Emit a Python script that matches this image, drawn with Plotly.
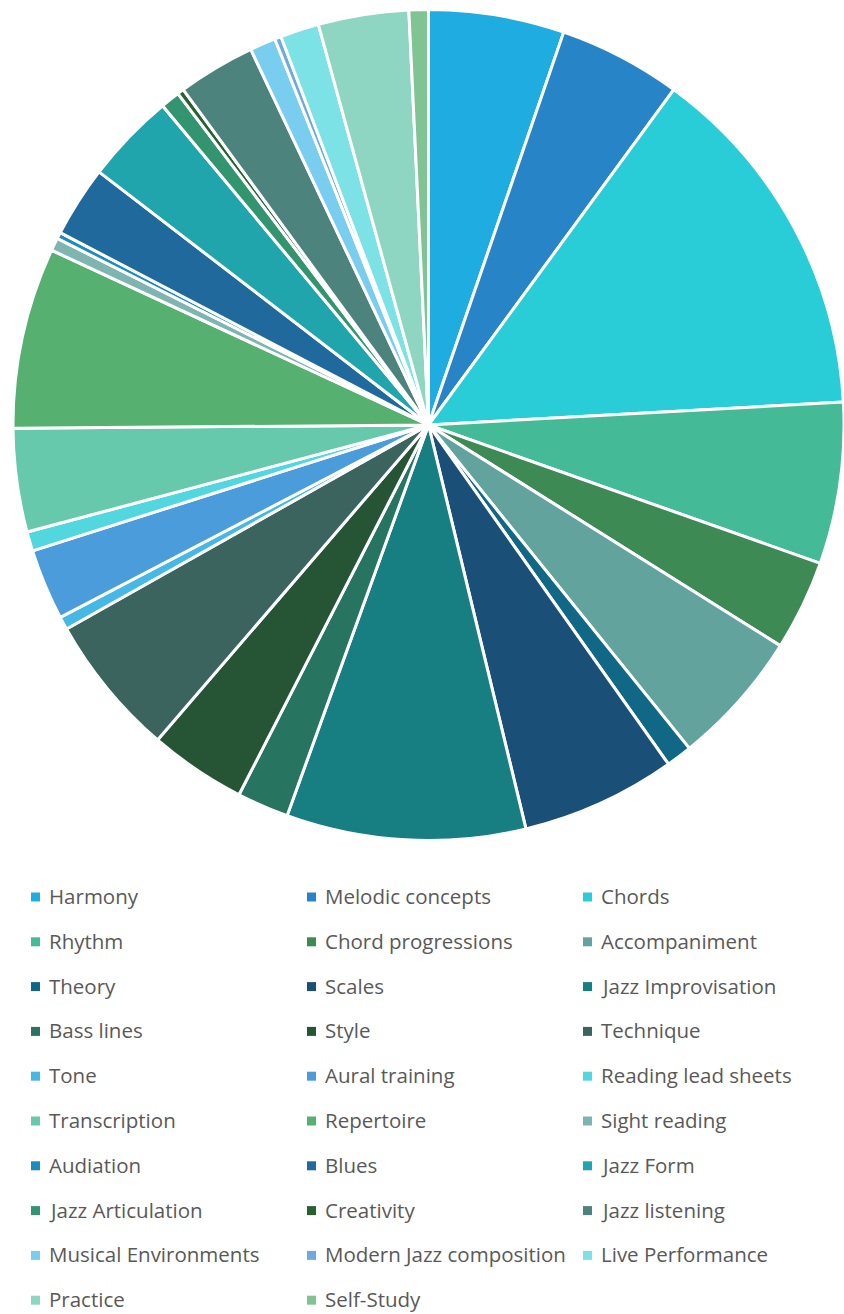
import plotly.graph_objects as go

# Topic frequencies (counts), listed in clockwise order from 12 o'clock
topics = [
    "Harmony", "Melodic concepts", "Chords",
    "Rhythm", "Chord progressions", "Accompaniment",
    "Theory", "Scales", "Jazz Improvisation",
    "Bass lines", "Style", "Technique",
    "Tone", "Aural training", "Reading lead sheets",
    "Transcription", "Repertoire", "Sight reading",
    "Audiation", "Blues", "Jazz Form",
    "Jazz Articulation", "Creativity", "Jazz listening",
    "Musical Environments", "Modern Jazz composition", "Live Performance",
    "Practice", "Self-Study",
]
counts = [
    21, 19, 56,
    25, 14, 21,
    4, 24, 37,
    8, 15, 22,
    2, 11, 3,
    16, 28, 2,
    1, 11, 14,
    3, 1, 12,
    4, 1, 6,
    14, 3,
]
slice_colors = [
    "#1FACE1", "#2784C7", "#29CDD7",
    "#44BA97", "#3E8A55", "#63A39E",
    "#106786", "#1A5077", "#177E81",
    "#277461", "#265535", "#3B645F",
    "#45B8E6", "#4A9CDA", "#53D7DF",
    "#66C9AB", "#56B170", "#7FB5B0",
    "#1B8CC0", "#1F699C", "#20A5AD",
    "#339470", "#28612F", "#4D837D",
    "#79CDEE", "#6EAADF", "#7CE2E5",
    "#8ED6C2", "#80C493",
]

W, H = 844, 1314

fig = go.Figure(
    go.Pie(
        labels=topics,
        values=counts,
        sort=False,
        direction="clockwise",
        rotation=0,
        marker=dict(colors=slice_colors, line=dict(color="white", width=3)),
        textinfo="none",
        hoverinfo="label+value+percent",
        showlegend=False,
        domain=dict(x=[13 / W, 1.0], y=[1 - 841 / H, 1 - 9 / H]),
    )
)

# Three-column legend below the pie
n_cols = 3
col_pitch = 276
row_pitch = 44.8
first_row_y = 896
marker_x0 = 31
marker_size = 9
text_offset = 16

shapes = []
annotations = []
for i, (name, col) in enumerate(zip(topics, slice_colors)):
    r, c = divmod(i, n_cols)
    yc = first_row_y + r * row_pitch
    x0 = marker_x0 + c * col_pitch
    shapes.append(dict(
        type="rect", xref="paper", yref="paper",
        x0=x0 / W, x1=(x0 + marker_size) / W,
        y0=1 - (yc + marker_size / 2 + 1) / H, y1=1 - (yc - marker_size / 2 + 1) / H,
        fillcolor=col, line=dict(width=0),
    ))
    annotations.append(dict(
        text=name, xref="paper", yref="paper",
        x=(x0 + text_offset) / W, y=1 - yc / H,
        xanchor="left", yanchor="middle", showarrow=False,
        font=dict(family="Open Sans", size=20.5, color="#595959"),
    ))

fig.update_layout(
    width=W, height=H,
    margin=dict(l=0, r=0, t=0, b=0),
    paper_bgcolor="white",
    plot_bgcolor="white",
    shapes=shapes,
    annotations=annotations,
)

fig.write_html("out.html")
